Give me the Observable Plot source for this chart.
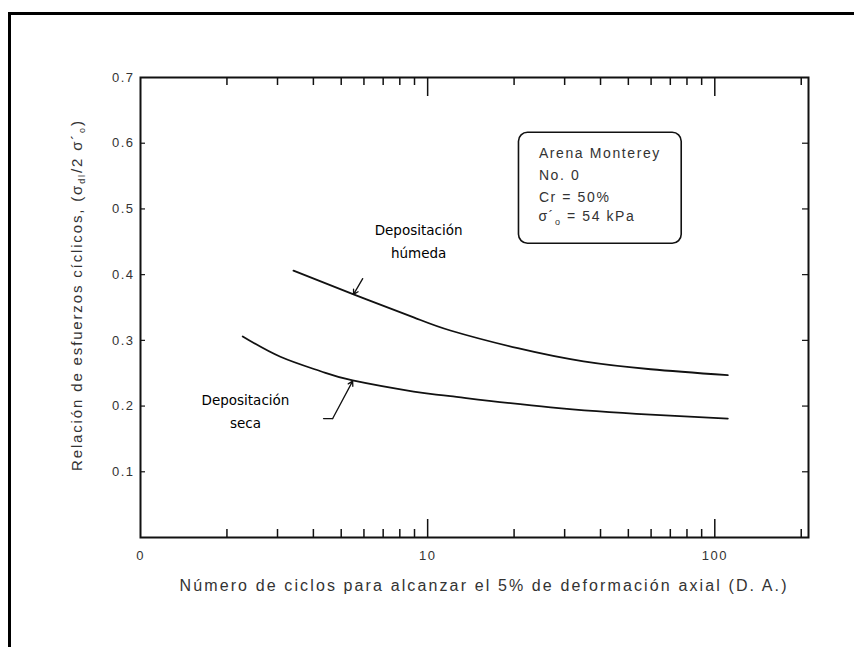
<!DOCTYPE html>
<html><head><meta charset="utf-8">
<script src="https://cdn.jsdelivr.net/npm/d3@7"></script>
<script src="https://cdn.jsdelivr.net/npm/@observablehq/plot@0.6"></script>
<style>
html,body{margin:0;padding:0;background:#fff;overflow:hidden;width:854px;height:647px;}
#wrap{position:relative;width:854px;height:647px;overflow:hidden;}
#border{position:absolute;left:8px;top:12px;width:900px;height:700px;border-left:3px solid #000;border-top:3px solid #000;}
#chart{position:absolute;left:0;top:0;}
</style></head><body>
<div id="wrap"><div id="border"></div><div id="chart"></div></div>
<script>
// Data
const humedaN = [3.41, 5.52, 8.94, 12.0, 20.6, 34.9, 59.8, 111];
const humedaR = [0.406, 0.370, 0.335, 0.315, 0.288, 0.268, 0.256, 0.247];
const secaN = [2.27, 3.07, 4.24, 5.48, 8.94, 12.0, 26.8, 59.8, 111];
const secaR = [0.306, 0.275, 0.253, 0.239, 0.222, 0.215, 0.198, 0.187, 0.181];

const xTickValues = [1, 10, 100];
const xTickLabels = ["0", "10", "100"];
const yTickValues = [0.1, 0.2, 0.3, 0.4, 0.5, 0.6, 0.7];
const minorX = [2, 3, 4, 5, 6, 7, 8, 9, 20, 30, 40, 50, 60, 70, 80, 90, 200];
const majorX = [10, 100];
const yInnerTicks = [0.1, 0.2, 0.3, 0.4, 0.5, 0.6];

// Annotations
const annotHumeda = {n: 9.3, r: 0.4536, text: "Depositación\nhúmeda"};
const annotSeca = {n: 2.32, r: 0.1956, text: "Depositación\nseca"};
const arrowHumeda = {n1: 5.94, r1: 0.394, n2: 5.52, r2: 0.370};
const hookSecaN = [4.34, 4.67];
const hookSecaR = [0.181, 0.181];
const arrowSeca = {n1: 4.67, r1: 0.181, n2: 5.48, r2: 0.238};
const boxRange = {n1: 20.8, n2: 76.7, r1: 0.447, r2: 0.616};
const boxLines = ["Arena Monterey", "No. 0", "Cr = 50%"];
const boxLineR = [0.584, 0.551, 0.517, 0.487];
const boxTextN = 24.4;

const W = 854, H = 647, mL = 140, mR = 46, mT = 77, mB = 110;
const plotH = H - mT - mB, plotW = W - mL - mR;

const humeda = humedaN.map((n, i) => ({n, r: humedaR[i]}));
const seca = secaN.map((n, i) => ({n, r: secaR[i]}));
const hook = hookSecaN.map((n, i) => ({n, r: hookSecaR[i]}));

const ink = "#111";
const plot = Plot.plot({
  width: W, height: H,
  marginLeft: mL, marginRight: mR, marginTop: mT, marginBottom: mB,
  x: {type: "log", domain: [1, 212]},
  y: {domain: [0, 0.7]},
  style: {fontFamily: "'Liberation Sans', Arial, sans-serif", fontSize: "13px", color: "#333", background: "transparent"},
  marks: [
    Plot.frame({stroke: ink, strokeWidth: 2}),
    Plot.axisX({ticks: xTickValues, tickSize: 0, tickPadding: 13, tickFormat: d => xTickLabels[xTickValues.indexOf(d)], label: null, fill: "#333"}),
    Plot.axisY({ticks: yTickValues, tickSize: 0, tickPadding: 6, tickFormat: d => d.toFixed(1), label: null, fill: "#333"}),
    // inward ticks, bottom
    Plot.ruleX(minorX, {x: d => d, insetTop: plotH - 8, stroke: ink, strokeWidth: 1.5}),
    Plot.ruleX(majorX, {x: d => d, insetTop: plotH - 18, stroke: ink, strokeWidth: 1.5}),
    // inward ticks, top
    Plot.ruleX(minorX, {x: d => d, insetBottom: plotH - 8, stroke: ink, strokeWidth: 1.5}),
    Plot.ruleX(majorX, {x: d => d, insetBottom: plotH - 19, stroke: ink, strokeWidth: 1.5}),
    // inward ticks, left & right
    Plot.ruleY(yInnerTicks, {y: d => d, insetRight: plotW - 5, stroke: ink, strokeWidth: 1.2}),
    Plot.ruleY(yInnerTicks, {y: d => d, insetLeft: plotW - 6, stroke: ink, strokeWidth: 1.2}),
    // curves
    Plot.line(humeda, {x: "n", y: "r", curve: "natural", stroke: ink, strokeWidth: 1.8}),
    Plot.line(seca, {x: "n", y: "r", curve: "natural", stroke: ink, strokeWidth: 1.8}),
    // arrows
    Plot.arrow([arrowHumeda], {x1: "n1", y1: "r1", x2: "n2", y2: "r2", stroke: ink, strokeWidth: 1.3, headLength: 6}),
    Plot.line(hook, {x: "n", y: "r", stroke: ink, strokeWidth: 1.3}),
    Plot.arrow([arrowSeca], {x1: "n1", y1: "r1", x2: "n2", y2: "r2", stroke: ink, strokeWidth: 1.3, headLength: 6}),
    // annotations
    Plot.text([annotHumeda], {x: "n", y: "r", text: "text", fontFamily: "'DejaVu Sans', sans-serif", fontSize: 13.5, lineHeight: 1.65, fill: "#000"}),
    Plot.text([annotSeca], {x: "n", y: "r", text: "text", fontFamily: "'DejaVu Sans', sans-serif", fontSize: 13.5, lineHeight: 1.7, fill: "#000"}),
    // legend box
    Plot.rect([boxRange], {x1: "n1", x2: "n2", y1: "r1", y2: "r2", fill: "none", stroke: ink, strokeWidth: 1.6, rx: 9}),
    Plot.text(boxLines, {x: () => boxTextN, y: (d, i) => boxLineR[i], text: d => d, textAnchor: "start", fontSize: 14, fill: "#333"})
  ]
});
document.getElementById("chart").append(plot);

const svg = d3.select(plot);
svg.selectAll('g[aria-label="x-axis tick label"], g[aria-label="y-axis tick label"]').style("letter-spacing", "1.5px");
svg.selectAll("text").filter(function () { return boxLines.includes(this.textContent); }).style("letter-spacing", "1.6px");

const sx = plot.scale("x"), sy = plot.scale("y");
// fourth box line with subscript
const t4 = svg.append("text")
  .attr("x", sx.apply(boxTextN)).attr("y", sy.apply(boxLineR[3])).attr("dy", "0.32em")
  .attr("text-anchor", "start")
  .attr("font-size", 14).attr("fill", "#333").style("letter-spacing", "1.6px");
t4.append("tspan").text("σ´");
t4.append("tspan").attr("font-size", 9).attr("dy", 4).text("o");
t4.append("tspan").attr("dy", -4).text(" = 54 kPa");

// y axis label
const yl = svg.append("text")
  .attr("transform", "translate(77,296) rotate(-90)")
  .attr("text-anchor", "middle").attr("dy", "0.35em")
  .attr("font-size", 15).attr("fill", "#333")
  .attr("textLength", 350).attr("lengthAdjust", "spacing");
yl.append("tspan").text("Relación de esfuerzos cíclicos, (σ");
yl.append("tspan").attr("font-size", 9).attr("dy", 3).text("dl");
yl.append("tspan").attr("dy", -3).text("/2 σ´");
yl.append("tspan").attr("font-size", 9).attr("dy", 3).text("o");
yl.append("tspan").attr("dy", -3).text(")");

// x axis label
svg.append("text")
  .attr("x", 483).attr("y", 585).attr("dy", "0.35em")
  .attr("text-anchor", "middle")
  .attr("font-size", 16).attr("fill", "#333")
  .attr("textLength", 607).attr("lengthAdjust", "spacing")
  .text("Número de ciclos para alcanzar el 5% de deformación axial (D. A.)");
</script>
</body></html>
